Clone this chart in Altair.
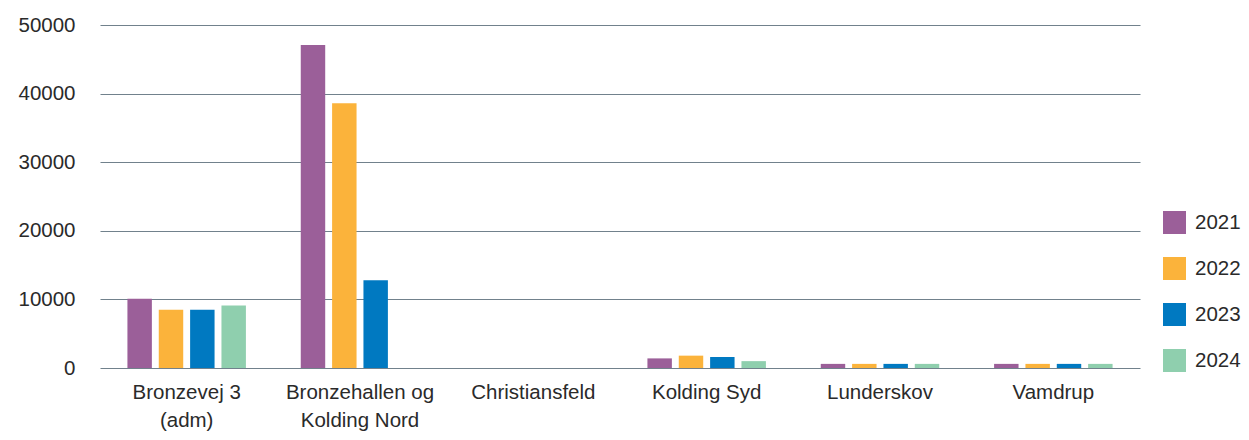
import altair as alt
import pandas as pd

categories = ["Bronzevej 3 (adm)", "Bronzehallen og Kolding Nord", "Christiansfeld",
              "Kolding Syd", "Lunderskov", "Vamdrup"]
years = ["2021", "2022", "2023", "2024"]
values_2021 = [10100, 47100, None, 1400, 600, 600]
values_2022 = [8500, 38600, None, 1800, 600, 600]
values_2023 = [8500, 12800, None, 1600, 600, 600]
values_2024 = [9100, None, None, 1000, 600, 600]
colors = ["#9b5f99", "#fbb33b", "#0079c1", "#8fcfae"]

rows = []
for yr, vals in zip(years, [values_2021, values_2022, values_2023, values_2024]):
    for c, v in zip(categories, vals):
        if v is not None:
            rows.append({"Område": c, "År": yr, "Værdi": v})
df = pd.DataFrame(rows)

label_expr = ("datum.label == 'Bronzevej 3 (adm)' ? ['Bronzevej 3', '(adm)'] : "
              "datum.label == 'Bronzehallen og Kolding Nord' ? ['Bronzehallen og', 'Kolding Nord'] : datum.label")

FONT = "Liberation Sans"
FS = 20.5
TXT = "#2a2a2a"

chart = alt.Chart(df).mark_bar().encode(
    x=alt.X("Område:N", sort=categories, title=None,
            scale=alt.Scale(domain=categories, paddingInner=0, paddingOuter=0),
            axis=alt.Axis(labelAngle=0, labelExpr=label_expr, domain=False, ticks=False,
                          labelPadding=14, labelLineHeight=28, labelFontSize=FS,
                          labelColor=TXT, labelFont=FONT)),
    xOffset=alt.XOffset("År:N", sort=years,
                        scale=alt.Scale(domain=years, paddingInner=0.22, paddingOuter=0.875)),
    y=alt.Y("Værdi:Q", title=None,
            scale=alt.Scale(domain=[0, 50000], nice=False),
            axis=alt.Axis(values=[0, 10000, 20000, 30000, 40000, 50000], format="d",
                          domain=False, ticks=False, labelPadding=25, labelFontSize=FS,
                          labelColor=TXT, labelFont=FONT,
                          gridColor="#71818c", gridWidth=1.2)),
    color=alt.Color("År:N", sort=years,
                    scale=alt.Scale(domain=years, range=colors),
                    legend=alt.Legend(title=None, orient="none", legendX=1063, legendY=186,
                                      symbolType="square", symbolSize=529, symbolStrokeWidth=0,
                                      rowPadding=23, labelOffset=9, labelFontSize=FS,
                                      labelColor=TXT, labelFont=FONT, padding=0)),
).properties(
    width=1040, height=343,
    autosize=alt.AutoSizeParams(type="none"),
    padding={"left": 92, "top": 17, "right": 101, "bottom": 64},
).configure_view(stroke=None)

chart.save("out.html", embed_options={"renderer": "svg", "actions": False})
